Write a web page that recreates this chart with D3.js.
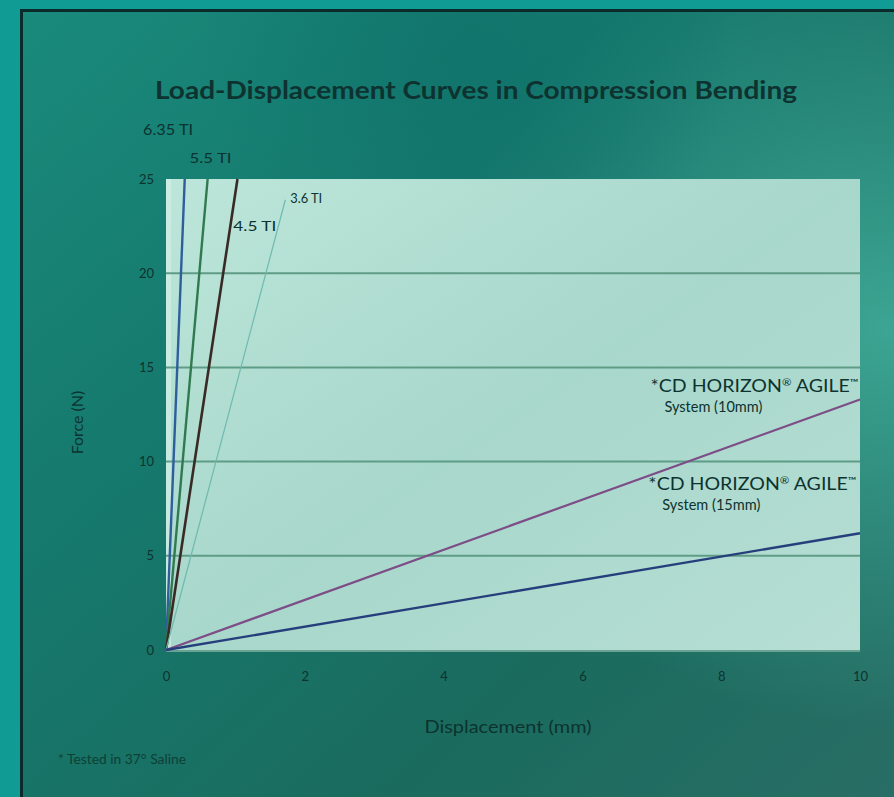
<!DOCTYPE html>
<html>
<head>
<meta charset="utf-8">
<script src="https://cdn.jsdelivr.net/npm/d3@7"></script>
<style>
  html, body { margin: 0; padding: 0; background: #129a92; }
  svg { display: block; }
  text { font-family: Lato, "Open Sans", sans-serif; }
</style>
</head>
<body>
<svg id="chart" width="894" height="797"></svg>
<script>
// Axis ticks
const xTicks = [0, 2, 4, 6, 8, 10];
const yTicks = [0, 5, 10, 15, 20, 25];

// Rod series: [displacement (mm), force (N)]
const seriesNames = ["6.35 TI", "5.5 TI", "4.5 TI", "3.6 TI",
  "*CD HORIZON® AGILE™ System (10mm)", "*CD HORIZON® AGILE™ System (15mm)"];
const rod635 = [[0, 0], [0.27, 25]];
const rod55  = [[0, 0], [0.6, 25]];
const rod45  = [[0, 0], [1.03, 25]];
const rod36  = [[0, 0], [1.72, 23.9]];
const agile10 = [[0, 0], [10, 13.3]];
const agile15 = [[0, 0], [10, 6.2]];
const seriesData = [rod635, rod55, rod45, rod36, agile10, agile15];
const seriesColors = ["#2f5e9c", "#2f7a4e", "#3a2a26", "#6fb9ad", "#7c4d86", "#263f7c"];
const seriesWidths = [2.4, 2.4, 2.6, 1.2, 2.2, 2.4];

const svg = d3.select("#chart");
const W = 894, H = 797;
const defs = svg.append("defs");

// Backdrop gradients
const bg = defs.append("linearGradient").attr("id", "bg")
  .attr("x1", "0").attr("y1", "0").attr("x2", "1").attr("y2", "1");
bg.append("stop").attr("offset", "0").attr("stop-color", "#198a7c");
bg.append("stop").attr("offset", "0.35").attr("stop-color", "#16796d");
bg.append("stop").attr("offset", "0.7").attr("stop-color", "#1a6b5e");
bg.append("stop").attr("offset", "1").attr("stop-color", "#2a6e66");

const glow = defs.append("radialGradient").attr("id", "glow")
  .attr("cx", "0.97").attr("cy", "0.4").attr("r", "0.5");
glow.append("stop").attr("offset", "0").attr("stop-color", "#45b3a0").attr("stop-opacity", 0.8);
glow.append("stop").attr("offset", "1").attr("stop-color", "#45b3a0").attr("stop-opacity", 0);

const shade = defs.append("radialGradient").attr("id", "shade")
  .attr("cx", "0.5").attr("cy", "0.05").attr("r", "0.3");
shade.append("stop").attr("offset", "0").attr("stop-color", "#0d6f6a").attr("stop-opacity", 0.6);
shade.append("stop").attr("offset", "1").attr("stop-color", "#0d6f6a").attr("stop-opacity", 0);

const plotFill = defs.append("linearGradient").attr("id", "plotFill")
  .attr("x1", "0").attr("y1", "0").attr("x2", "1").attr("y2", "1");
plotFill.append("stop").attr("offset", "0").attr("stop-color", "#bde6da");
plotFill.append("stop").attr("offset", "0.5").attr("stop-color", "#a8d7cb");
plotFill.append("stop").attr("offset", "1").attr("stop-color", "#b6ded4");

// Outer strip and frame
svg.append("rect").attr("width", W).attr("height", H).attr("fill", "#119b95");
svg.append("rect").attr("x", 21).attr("y", 10).attr("width", W).attr("height", H)
  .attr("fill", "url(#bg)");
svg.append("rect").attr("x", 21).attr("y", 10).attr("width", W).attr("height", H)
  .attr("fill", "url(#glow)");
svg.append("rect").attr("x", 21).attr("y", 10).attr("width", W).attr("height", H)
  .attr("fill", "url(#shade)");
svg.append("path").attr("d", `M21.5,${H} V10.5 H${W}`)
  .attr("fill", "none").attr("stroke", "#0b2b2a").attr("stroke-width", 3);

// Plot geometry
const plotL = 166, plotR = 860, plotT = 179, plotB = 650;
const x = d3.scaleLinear().domain([0, 10]).range([plotL, plotR]);
const y = d3.scaleLinear().domain([0, 25]).range([plotB, plotT]);

svg.append("rect").attr("x", plotL).attr("y", plotT)
  .attr("width", plotR - plotL).attr("height", plotB - plotT)
  .attr("fill", "url(#plotFill)");
svg.append("rect").attr("x", plotL).attr("y", plotT).attr("width", 5).attr("height", plotB - plotT)
  .attr("fill", "#d2efe7").attr("opacity", 0.7);

// Horizontal gridlines
svg.append("g").selectAll("line").data(yTicks.filter(t => t > 0 && t < 25)).join("line")
  .attr("x1", plotL).attr("x2", plotR)
  .attr("y1", d => y(d)).attr("y2", d => y(d))
  .attr("stroke", "#5f9c86").attr("stroke-width", 2);

// Baseline under the plot
svg.append("line").attr("x1", plotL).attr("x2", plotR)
  .attr("y1", plotB + 1).attr("y2", plotB + 1)
  .attr("stroke", "#6aa294").attr("stroke-width", 2);

// Axes
const ink = "#0c332f";
const yAxis = svg.append("g").attr("transform", `translate(${plotL - 8},0)`)
  .call(d3.axisLeft(y).tickValues(yTicks).tickSize(0).tickPadding(4));
const xAxis = svg.append("g").attr("transform", `translate(0,${plotB + 18})`)
  .call(d3.axisBottom(x).tickValues(xTicks).tickSize(0).tickPadding(4));
[xAxis, yAxis].forEach(a => {
  a.select(".domain").remove();
  a.selectAll("text").attr("fill", ink).attr("font-size", 13)
    .attr("font-family", "Lato, sans-serif");
});

// Series lines
const line = d3.line().x(d => x(d[0])).y(d => y(d[1]));
svg.append("g").selectAll("path").data(seriesData).join("path")
  .attr("d", line)
  .attr("fill", "none")
  .attr("stroke", (d, i) => seriesColors[i])
  .attr("stroke-width", (d, i) => seriesWidths[i])
  .attr("stroke-linecap", "butt");

// Rod labels (anchored in data units)
const labels = [
  { t: "6.35 TI", px: -0.33, py: 27.35, size: 14.5, w: 50 },
  { t: "5.5 TI", px: 0.34, py: 25.85, size: 14, w: 42 },
  { t: "4.5 TI", px: 0.97, py: 22.25, size: 14, w: 43 },
  { t: "3.6 TI", px: 1.79, py: 23.75, size: 14, w: 32 }
];
svg.append("g").selectAll("text").data(labels).join("text")
  .attr("x", d => x(d.px)).attr("y", d => y(d.py))
  .attr("font-size", d => d.size).attr("fill", ink)
  .attr("textLength", d => d.w).attr("lengthAdjust", "spacingAndGlyphs")
  .text(d => d.t);

// AGILE system labels, with raised ® and ™ marks
const agileLabels = [
  { l2: "System (10mm)", px: 6.98, py: 13.7 },
  { l2: "System (15mm)", px: 6.95, py: 8.5 }
];
const ag = svg.append("g").selectAll("g").data(agileLabels).join("g")
  .attr("transform", d => `translate(${x(d.px)},${y(d.py)})`);
const l1 = ag.append("text").attr("font-size", 17).attr("fill", ink)
  .attr("textLength", 208).attr("lengthAdjust", "spacingAndGlyphs");
l1.append("tspan").text("*CD HORIZON");
l1.append("tspan").attr("font-size", 10).attr("dy", -6).text("®");
l1.append("tspan").attr("dy", 6).text(" AGILE");
l1.append("tspan").attr("font-size", 10).attr("dy", -6).text("™");
ag.append("text").attr("x", 14).attr("y", 20).attr("font-size", 15).attr("fill", ink)
  .attr("textLength", 98).attr("lengthAdjust", "spacingAndGlyphs").text(d => d.l2);

// Titles
svg.append("text").attr("x", 155).attr("y", 99)
  .attr("font-size", 25.5).attr("font-weight", "bold").attr("fill", "#0e322f")
  .attr("textLength", 642).attr("lengthAdjust", "spacingAndGlyphs")
  .text("Load-Displacement Curves in Compression Bending");

svg.append("text").attr("transform", `translate(83,${(plotT + plotB) / 2 + 8}) rotate(-90)`)
  .attr("text-anchor", "middle").attr("font-size", 16).attr("fill", ink)
  .text("Force (N)");

svg.append("text").attr("x", 508).attr("y", 733).attr("text-anchor", "middle")
  .attr("font-size", 18).attr("fill", ink)
  .attr("textLength", 167).attr("lengthAdjust", "spacingAndGlyphs")
  .text("Displacement (mm)");

svg.append("text").attr("x", 58).attr("y", 764)
  .attr("font-size", 13.5).attr("fill", "#0e3f37")
  .attr("textLength", 128).attr("lengthAdjust", "spacingAndGlyphs")
  .text("* Tested in 37° Saline");
</script>
</body>
</html>
